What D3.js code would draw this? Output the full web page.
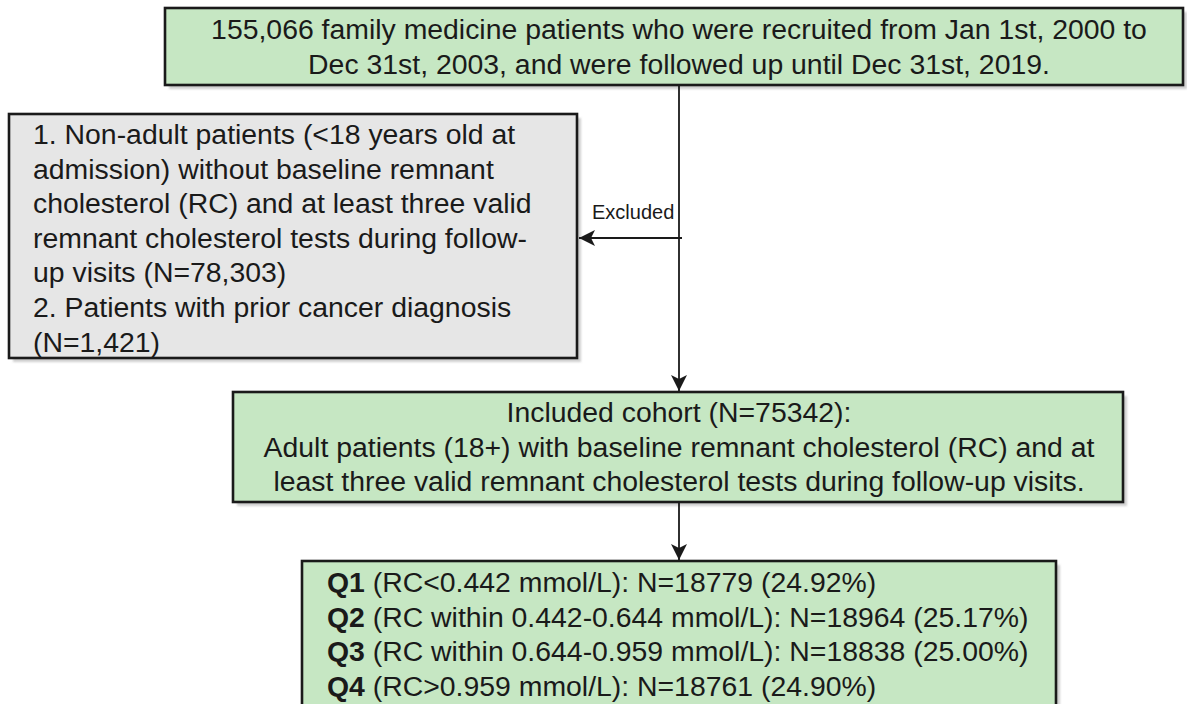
<!DOCTYPE html>
<html>
<head>
<meta charset="utf-8">
<script src="https://cdn.jsdelivr.net/npm/d3@7"></script>
<style>
  body { margin: 0; background: #fff; }
  svg { display: block; font-family: "Liberation Sans", Arial, Helvetica, sans-serif; }
</style>
</head>
<body>
<div id="chart"></div>
<script>
// box texts
var topLines = [
  "155,066 family medicine patients who were recruited from Jan 1st, 2000 to",
  "Dec 31st, 2003, and were followed up until Dec 31st, 2019."
];
var excludedLines = [
  "1. Non-adult patients (<18 years old at",
  "admission) without baseline remnant",
  "cholesterol (RC) and at least three valid",
  "remnant cholesterol tests during follow-",
  "up visits (N=78,303)",
  "2. Patients with prior cancer diagnosis",
  "(N=1,421)"
];
var includedLines = [
  "Included cohort (N=75342):",
  "Adult patients (18+) with baseline remnant cholesterol (RC) and at",
  "least three valid remnant cholesterol tests during follow-up visits."
];
var quartiles = ["Q1", "Q2", "Q3", "Q4"];
var quartileRanges = [
  "(RC<0.442 mmol/L)",
  "(RC within 0.442-0.644 mmol/L)",
  "(RC within 0.644-0.959 mmol/L)",
  "(RC>0.959 mmol/L)"
];
var quartileN = [18779, 18964, 18838, 18761];
var quartilePct = ["24.92%", "25.17%", "25.00%", "24.90%"];
var excludedLabel = "Excluded";

var width = 1187, height = 704;
var fontSize = 28.4, lineH = 34.6;
var green = "#c6e7c3", grey = "#e6e6e6", ink = "#1a1a1a";

var svg = d3.select("#chart").append("svg")
    .attr("width", width)
    .attr("height", height);

var defs = svg.append("defs");
defs.append("filter").attr("id", "blur")
    .append("feGaussianBlur").attr("stdDeviation", 1);
var marker = defs.append("marker")
    .attr("id", "arrow")
    .attr("viewBox", "-17 -9 18 18")
    .attr("refX", 0).attr("refY", 0)
    .attr("markerWidth", 18).attr("markerHeight", 18)
    .attr("markerUnits", "userSpaceOnUse")
    .attr("orient", "auto");
marker.append("path")
    .attr("d", "M0,0 L-16,-8 L-12,0 L-16,8 Z")
    .attr("fill", ink);

// boxes
var boxes = {
  top:  {x: 165, y: 8,   w: 1018, h: 77,  fill: green},
  exc:  {x: 9,   y: 114, w: 568,  h: 244, fill: grey},
  inc:  {x: 233, y: 392, w: 890,  h: 110, fill: green},
  quart:{x: 302, y: 561, w: 754,  h: 160, fill: green}
};

function drawBox(b) {
  svg.append("rect")
      .attr("x", b.x + 4).attr("y", b.y + 4)
      .attr("width", b.w).attr("height", b.h)
      .attr("fill", "#cfcfcf")
      .attr("filter", "url(#blur)");
  svg.append("rect")
      .attr("x", b.x).attr("y", b.y)
      .attr("width", b.w).attr("height", b.h)
      .attr("fill", b.fill)
      .attr("stroke", ink)
      .attr("stroke-width", 2.6);
}
Object.values(boxes).forEach(drawBox);

// connectors
var cx = 679, splitY = 238;
svg.append("line")
    .attr("x1", cx).attr("y1", boxes.top.y + boxes.top.h)
    .attr("x2", cx).attr("y2", boxes.inc.y - 1)
    .attr("stroke", ink).attr("stroke-width", 1.8)
    .attr("marker-end", "url(#arrow)");
svg.append("line")
    .attr("x1", cx + 3).attr("y1", splitY)
    .attr("x2", boxes.exc.x + boxes.exc.w + 2).attr("y2", splitY)
    .attr("stroke", ink).attr("stroke-width", 1.8)
    .attr("marker-end", "url(#arrow)");
svg.append("line")
    .attr("x1", cx).attr("y1", boxes.inc.y + boxes.inc.h)
    .attr("x2", cx).attr("y2", boxes.quart.y - 1)
    .attr("stroke", ink).attr("stroke-width", 1.8)
    .attr("marker-end", "url(#arrow)");

svg.append("text")
    .attr("x", 592).attr("y", 219)
    .attr("font-size", 20)
    .attr("fill", ink)
    .text(excludedLabel);

// texts (centred on the connector line)
function centeredLines(lines, firstBaseline) {
  svg.append("g").selectAll("text")
      .data(lines)
      .enter()
      .append("text")
      .attr("x", cx)
      .attr("y", function (d, i) { return firstBaseline + i * lineH; })
      .attr("text-anchor", "middle")
      .attr("font-size", fontSize)
      .attr("fill", ink)
      .text(function (d) { return d; });
}
centeredLines(topLines, 39);
centeredLines(includedLines, 422);

svg.append("g").selectAll("text")
    .data(excludedLines)
    .enter()
    .append("text")
    .attr("x", 33)
    .attr("y", function (d, i) { return 144 + i * lineH; })
    .attr("font-size", fontSize)
    .attr("fill", ink)
    .text(function (d) { return d; });

var qText = svg.append("g").selectAll("text")
    .data(quartiles)
    .enter()
    .append("text")
    .attr("x", 327)
    .attr("y", function (d, i) { return 592 + i * lineH; })
    .attr("font-size", fontSize)
    .attr("fill", ink);
qText.append("tspan")
    .attr("font-weight", "bold")
    .text(function (d) { return d; });
qText.append("tspan")
    .text(function (d, i) {
      return " " + quartileRanges[i] + ": N=" + quartileN[i] + " (" + quartilePct[i] + ")";
    });
</script>
</body>
</html>
